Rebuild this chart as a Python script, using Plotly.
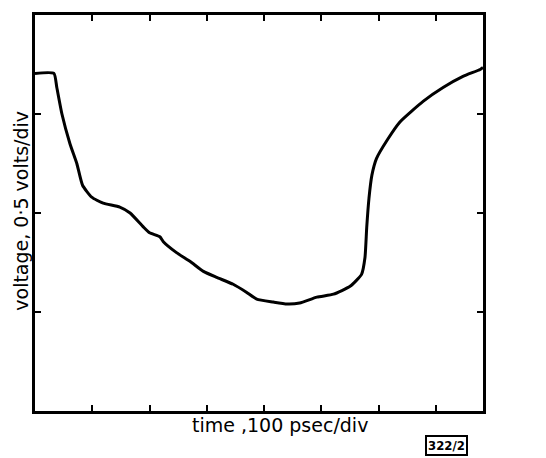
import plotly.graph_objects as go

# time in divisions (100 psec/div), voltage in divisions (0.5 V/div)
time_div = [0.0, 0.33, 0.38, 0.47, 0.61, 0.73, 0.83, 0.99, 1.19, 1.48, 1.66, 1.89,
            2.0, 2.18, 2.24, 2.47, 2.71, 2.94, 3.17, 3.46, 3.69, 3.87, 4.16, 4.4,
            4.62, 4.92, 5.21, 5.5, 5.7, 5.76, 5.79, 5.83, 5.88, 5.96, 6.14, 6.37,
            6.78, 7.13, 7.47, 7.77, 7.82]
voltage_div = [3.41, 3.41, 3.27, 3.0, 2.70, 2.50, 2.28, 2.16, 2.10, 2.06, 2.0, 1.86,
               1.80, 1.76, 1.71, 1.60, 1.51, 1.41, 1.35, 1.28, 1.20, 1.13, 1.10, 1.08,
               1.09, 1.15, 1.18, 1.26, 1.38, 1.55, 1.85, 2.15, 2.38, 2.55, 2.73, 2.92,
               3.13, 3.27, 3.38, 3.45, 3.47]

x_ticks = [1, 2, 3, 4, 5, 6, 7]
y_ticks = [1, 2, 3]

x_title = "time ,100 psec/div"
y_title = "voltage, 0·5 volts/div"
fig_id = "322/2"

fig = go.Figure()
fig.add_trace(go.Scatter(x=time_div, y=voltage_div, mode="lines",
                         line=dict(color="black", width=3, shape="spline", smoothing=0.5),
                         showlegend=False, hoverinfo="skip"))

axis_common = dict(showgrid=False, zeroline=False, showline=True, linecolor="black",
                   linewidth=3, mirror="ticks", ticks="inside", ticklen=6,
                   tickwidth=2, tickcolor="black", showticklabels=False)

# page body has an 8px margin, so the figure is offset accordingly
fig.update_layout(
    width=530, height=450,
    margin=dict(l=27, r=55, t=4, b=47),
    paper_bgcolor="white", plot_bgcolor="white",
    xaxis=dict(range=[0, 7.82], tickvals=x_ticks, **axis_common),
    yaxis=dict(range=[0, 4], tickvals=y_ticks, **axis_common),
    font=dict(family="DejaVu Sans", color="black"),
    annotations=[
        dict(text=x_title, xref="paper", yref="paper", x=0.547, y=-0.035,
             xanchor="center", yanchor="middle", showarrow=False,
             font=dict(size=19)),
        dict(text=y_title, xref="paper", yref="paper", x=-0.031, y=0.506,
             xanchor="center", yanchor="middle", showarrow=False, textangle=-90,
             font=dict(size=19)),
        dict(text="<b>" + fig_id + "</b>", xref="paper", yref="paper", x=0.918, y=-0.088,
             xanchor="center", yanchor="middle", showarrow=False,
             font=dict(size=13, family="DejaVu Sans Condensed"),
             bordercolor="black", borderwidth=2, borderpad=1),
    ],
)

fig.write_html("out.html")
